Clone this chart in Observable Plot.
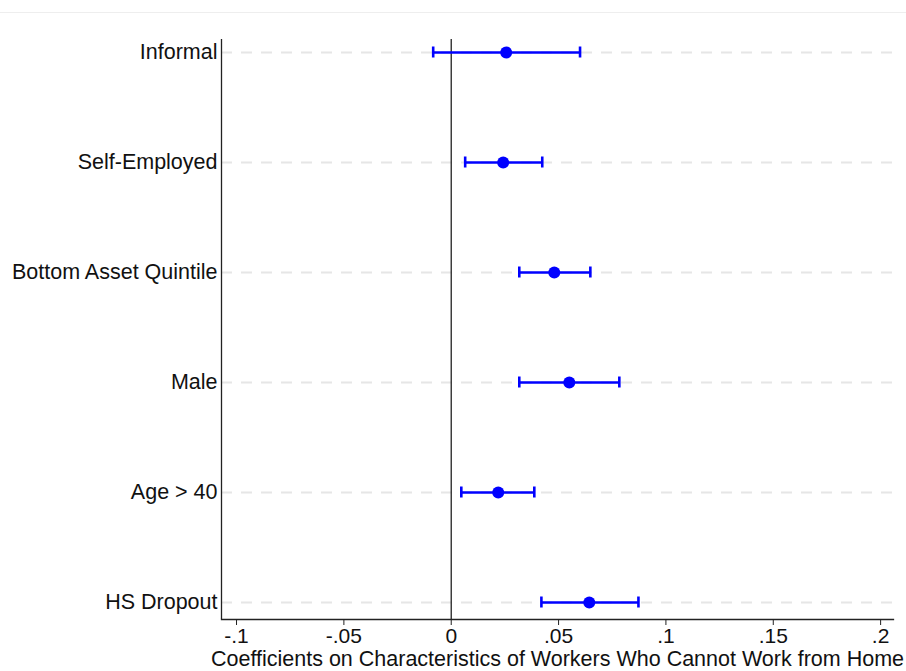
<!DOCTYPE html>
<html>
<head>
<meta charset="utf-8">
<script src="https://cdn.jsdelivr.net/npm/d3@7"></script>
<script src="https://cdn.jsdelivr.net/npm/@observablehq/plot@0.6"></script>
<style>
  html, body { margin: 0; padding: 0; background: #fff; }
  #wrap { position: relative; width: 906px; height: 671px; overflow: hidden; }
  #topline { position: absolute; left: 0; top: 12px; width: 906px; height: 0; border-top: 1px solid #eeeeee; }
  svg { font-family: "Liberation Sans", Arial, Helvetica, sans-serif; }
</style>
</head>
<body>
<div id="wrap"><div id="topline"></div></div>
<script>
const categories = ["Informal", "Self-Employed", "Bottom Asset Quintile", "Male", "Age > 40", "HS Dropout"];
const estimates = [0.0256, 0.0242, 0.0480, 0.0550, 0.0219, 0.0643];
const lower = [-0.0084, 0.0065, 0.0317, 0.0317, 0.0047, 0.0420];
const upper = [0.0600, 0.0424, 0.0648, 0.0783, 0.0387, 0.0872];
const xTicks = [-0.1, -0.05, 0, 0.05, 0.1, 0.15, 0.2];
const xTickLabels = ["-.1", "-.05", "0", ".05", ".1", ".15", ".2"];
const xTitle = "Coefficients on Characteristics of Workers Who Cannot Work from Home";

const rows = categories.map((c, i) => ({cat: c, est: estimates[i], lo: lower[i], hi: upper[i]}));
const xMin = -0.107, xMax = 0.206;

const chart = Plot.plot({
  width: 906,
  height: 671,
  marginLeft: 221,
  marginRight: 13,
  marginTop: 39,
  marginBottom: 52,
  style: {fontFamily: "'Liberation Sans', Arial, Helvetica, sans-serif", background: "transparent"},
  x: {domain: [xMin, xMax], axis: null},
  y: {type: "point", domain: categories, padding: 0, insetTop: 11, insetBottom: 16, axis: null},
  marks: [
    // dashed gridlines per category
    Plot.ruleY(categories, {y: d => d, x1: xMin, x2: xMax, stroke: "#e6e6e6", strokeWidth: 2, strokeDasharray: "11,9"}),
    // zero reference line
    Plot.ruleX([0], {stroke: "#222", strokeWidth: 1.3}),
    // left axis line
    Plot.ruleX([xMin], {stroke: "#222", strokeWidth: 1.3}),
    // bottom axis line
    Plot.frame({anchor: "bottom", stroke: "#222", strokeWidth: 1.3}),
    // x axis ticks and labels
    Plot.axisX(xTicks, {
      anchor: "bottom",
      tickSize: 6,
      tickPadding: 3,
      fontSize: 21,
      stroke: "#222",
      fill: "#111",
      tickFormat: (d) => xTickLabels[xTicks.indexOf(d)],
      label: null
    }),
    // x axis title
    Plot.text([xTitle], {
      frameAnchor: "bottom",
      dy: 40,
      text: d => d,
      fontSize: 21.5,
      fill: "#111",
      lineAnchor: "middle"
    }),
    // y axis labels
    Plot.axisY(categories, {
      anchor: "left",
      tickSize: 0,
      tickPadding: 4,
      fontSize: 21.5,
      fill: "#111",
      label: null
    }),
    // error bars
    Plot.link(rows, {x1: "lo", x2: "hi", y1: "cat", y2: "cat", stroke: "#0000ff", strokeWidth: 2.6}),
    Plot.ruleX(rows, {x: "lo", y1: "cat", y2: "cat", stroke: "#0000ff", strokeWidth: 2.6, insetTop: -5.5, insetBottom: -5.5}),
    Plot.ruleX(rows, {x: "hi", y1: "cat", y2: "cat", stroke: "#0000ff", strokeWidth: 2.6, insetTop: -5.5, insetBottom: -5.5}),
    Plot.dot(rows, {x: "est", y: "cat", r: 6, fill: "#0000ff", stroke: "none"})
  ]
});
document.getElementById("wrap").appendChild(chart);
chart.style.position = "absolute";
chart.style.left = "0";
chart.style.top = "0";
</script>
</body>
</html>
